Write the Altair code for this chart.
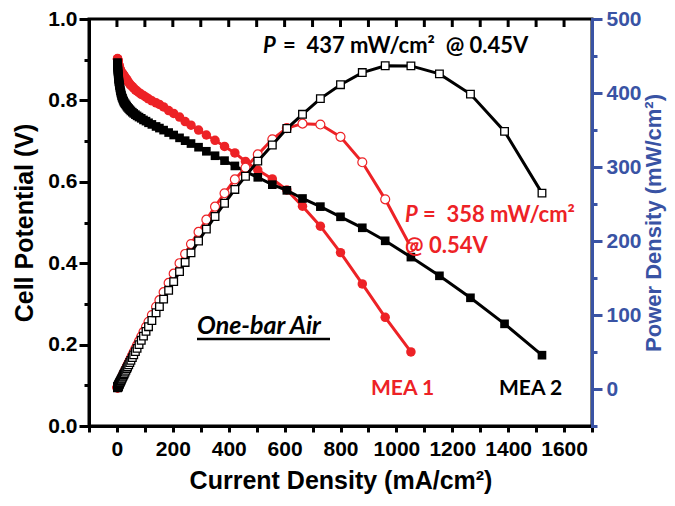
import altair as alt
import pandas as pd

# ---------------- data ----------------
current = [2.0, 2.2, 2.4, 2.6, 2.9, 3.2, 3.5, 3.8, 4.2, 4.6,
           5.0, 5.5, 6.0, 6.6, 7.2, 7.9, 8.7, 9.5, 10.4, 11.4,
           12.5, 13.7, 15, 16.5, 18, 20, 22, 24, 26, 29,
           32, 35, 38, 42, 46, 50, 55, 60, 66, 72,
           79, 87, 95, 104, 113, 125, 140, 152, 167, 185,
           203, 224, 244, 265, 292, 320, 351, 385, 422, 460,
           504, 556, 608, 664, 728, 800, 878, 960, 1052, 1154,
           1265, 1387, 1521]

mea2_v = [0.893, 0.890, 0.887, 0.884, 0.881, 0.877, 0.874, 0.871, 0.867, 0.864,
          0.860, 0.857, 0.853, 0.850, 0.846, 0.843, 0.839, 0.836, 0.832, 0.828,
          0.824, 0.820, 0.816, 0.812, 0.808, 0.805, 0.801, 0.798, 0.795, 0.792,
          0.789, 0.786, 0.783, 0.780, 0.777, 0.774, 0.771, 0.768, 0.765, 0.762,
          0.759, 0.756, 0.752, 0.749, 0.745, 0.741, 0.736, 0.732, 0.727, 0.721,
          0.715, 0.708, 0.701, 0.694, 0.685, 0.675, 0.664, 0.652, 0.639, 0.625,
          0.611, 0.593, 0.579, 0.559, 0.539, 0.514, 0.487, 0.455, 0.415, 0.369,
          0.315, 0.251, 0.174]

mea2_p = [1.8, 2.0, 2.1, 2.3, 2.6, 2.8, 3.1, 3.3, 3.6, 4.0,
          4.3, 4.7, 5.1, 5.6, 6.1, 6.7, 7.3, 7.9, 8.7, 9.4,
          10.3, 11.2, 12.2, 13.4, 14.5, 16.1, 17.6, 19.2, 20.7, 23.0,
          25.2, 27.5, 29.8, 32.8, 35.7, 38.7, 42.4, 46.1, 50.5, 54.9,
          60.0, 65.8, 71.4, 77.9, 84.2, 92.6, 103.0, 111.3, 121.4, 133.4,
          145.1, 158.6, 171.0, 183.9, 200.0, 216.0, 233.1, 251.0, 269.7, 287.5,
          307.9, 329.7, 352.0, 371.2, 392.4, 411.2, 427.6, 436.8, 436.6, 425.8,
          398.5, 348.1, 264.7]

mea1_v = [0.903, 0.902, 0.901, 0.900, 0.899, 0.898, 0.897, 0.896, 0.894, 0.893,
          0.891, 0.890, 0.888, 0.887, 0.885, 0.883, 0.881, 0.879, 0.878, 0.876,
          0.874, 0.872, 0.870, 0.869, 0.867, 0.866, 0.864, 0.862, 0.860, 0.857,
          0.854, 0.851, 0.848, 0.844, 0.840, 0.837, 0.834, 0.830, 0.826, 0.823,
          0.819, 0.815, 0.812, 0.808, 0.804, 0.799, 0.794, 0.790, 0.784, 0.775,
          0.768, 0.759, 0.748, 0.739, 0.727, 0.715, 0.702, 0.687, 0.671, 0.650,
          0.629, 0.607, 0.580, 0.540, 0.491, 0.426, 0.349, 0.267, 0.182]

mea1_p = [1.8, 2.0, 2.2, 2.3, 2.6, 2.9, 3.1, 3.4, 3.8, 4.1,
          4.5, 4.9, 5.3, 5.9, 6.4, 7.0, 7.7, 8.4, 9.1, 10.0,
          10.9, 11.9, 13.1, 14.3, 15.6, 17.3, 19.0, 20.7, 22.4, 24.9,
          27.3, 29.8, 32.2, 35.4, 38.6, 41.9, 45.9, 49.8, 54.5, 59.3,
          64.7, 70.9, 77.1, 84.0, 90.9, 99.9, 111.2, 120.1, 130.9, 143.4,
          155.9, 170.0, 182.5, 195.8, 212.3, 228.8, 246.4, 264.5, 283.2, 299.0,
          317.0, 337.5, 352.6, 358.6, 357.4, 340.8, 306.4, 256.3, 191.5]

x_tick_values = [-100, 0, 100, 200, 300, 400, 500, 600, 700, 800, 900,
                 1000, 1100, 1200, 1300, 1400, 1500, 1600, 1700]
top_tick_values = [0, 100, 200, 300, 400, 500, 600, 700, 800,
                   900, 1000, 1100, 1200, 1300, 1400, 1500, 1600]
v_tick_values = [0, 0.1, 0.2, 0.3, 0.4, 0.5, 0.6, 0.7, 0.8, 0.9, 1.0]
p_tick_values = [-50, 0, 50, 100, 150, 200, 250, 300, 350, 400, 450, 500]

RED = "#ED2226"
BLUE = "#3953A4"
AX_FONT = "Liberation Sans"
ANN_FONT = "Lato"

mea1 = pd.DataFrame({"i": current[:len(mea1_v)], "v": mea1_v, "p": mea1_p})
mea2 = pd.DataFrame({"i": current, "v": mea2_v, "p": mea2_p})
top_ticks = pd.DataFrame({"t": top_tick_values})
one = pd.DataFrame({"a": [0]})

# ---------------- scales & axes ----------------
xscale = alt.Scale(domain=[-100, 1700], nice=False, zero=False)
vscale = alt.Scale(domain=[0, 1], nice=False, zero=False)
pscale = alt.Scale(domain=[-50, 500], nice=False, zero=False)

x_axis = alt.Axis(
    values=x_tick_values, grid=False,
    labelExpr="datum.value % 200 === 0 ? format(datum.value, 'd') : ''",
    tickSize=6, tickWidth=3, tickColor="black",
    domainWidth=3, domainColor="black", domainCap="square",
    labelFont=AX_FONT, labelFontSize=21, labelFontWeight="bold", labelColor="black",
    labelPadding=6, labelOverlap=False, labelFlush=False,
    title="Current Density (mA/cm²)", titleFont=AX_FONT, titleFontSize=25,
    titleFontWeight="bold", titleColor="black", titlePadding=9,
)

v_axis = alt.Axis(
    orient="left", values=v_tick_values, grid=False,
    labelExpr="round(datum.value * 10) % 2 === 0 ? format(datum.value, '.1f') : ''",
    tickSize={"condition": {"test": "round(datum.value * 10) % 2 === 0", "value": 10}, "value": 5},
    tickWidth=3, tickColor="black",
    domainWidth=3, domainColor="black", domainCap="square",
    labelFont=AX_FONT, labelFontSize=21, labelFontWeight="bold", labelColor="black",
    labelPadding=2, labelOverlap=False, labelFlush=False,
    title="Cell Potential (V)", titleFont=AX_FONT, titleFontSize=25,
    titleFontWeight="bold", titleColor="black", titlePadding=10,
)

p_axis = alt.Axis(
    orient="right", values=p_tick_values, grid=False,
    labelExpr="datum.value % 100 === 0 ? format(datum.value, 'd') : ''",
    tickSize={"condition": {"test": "datum.value % 100 === 0", "value": 10}, "value": 5},
    tickWidth=3, tickColor=BLUE,
    domainWidth=3, domainColor=BLUE, domainCap="square",
    labelFont=AX_FONT, labelFontSize=21, labelFontWeight="bold", labelColor=BLUE,
    labelPadding=4, labelOverlap=False, labelFlush=False,
    title="Power Density (mW/cm²)", titleFont=AX_FONT, titleFontSize=22,
    titleFontWeight="bold", titleColor=BLUE, titlePadding=2,
    titleAngle=270, titleBaseline="top",
)

X = alt.X("i:Q", scale=xscale, axis=x_axis)
YV = alt.Y("v:Q", scale=vscale, axis=v_axis)
YP = alt.Y("p:Q", scale=pscale, axis=p_axis)

# ---------------- polarization curves ----------------
red_v_line = alt.Chart(mea1).mark_line(color=RED, strokeWidth=3).encode(x=X, y=YV, order="i:Q")
red_v_pts = alt.Chart(mea1).mark_point(shape="circle", filled=True, color=RED, size=90, opacity=1).encode(x=X, y=YV)
blk_v_line = alt.Chart(mea2).mark_line(color="black", strokeWidth=3).encode(x=X, y=YV, order="i:Q")
blk_v_pts = alt.Chart(mea2).mark_point(shape="square", filled=True, color="black", size=75, opacity=1).encode(x=X, y=YV)

v_group = alt.layer(red_v_line, red_v_pts, blk_v_line, blk_v_pts)

# ---------------- power curves ----------------
red_p_line = alt.Chart(mea1).mark_line(color=RED, strokeWidth=3).encode(x=X, y=YP, order="i:Q")
red_p_pts = alt.Chart(mea1).mark_point(shape="circle", filled=True, fill="white", stroke=RED,
                                       strokeWidth=1.2, size=80, opacity=1).encode(x=X, y=YP)
blk_p_line = alt.Chart(mea2).mark_line(color="black", strokeWidth=3).encode(x=X, y=YP, order="i:Q")
blk_p_pts = alt.Chart(mea2).mark_point(shape="square", filled=True, fill="white", stroke="black",
                                       strokeWidth=1.3, size=58, opacity=1).encode(x=X, y=YP)

p_group = alt.layer(red_p_line, red_p_pts, blk_p_line, blk_p_pts)

# ---------------- inward ticks on the top frame ----------------
top_tick_layer = alt.Chart(top_ticks).mark_rule(color="black", strokeWidth=3).encode(
    x=alt.X("t:Q", scale=xscale, axis=x_axis), y=alt.value(0), y2=alt.value(8))


def label(text, x, y, color="black", size=22, italic=False):
    return alt.Chart(one).mark_text(
        text=text, font=ANN_FONT, fontSize=size, fontWeight="bold",
        fontStyle="italic" if italic else "normal", color=color,
        align="left", baseline="alphabetic",
    ).encode(x=alt.value(x), y=alt.value(y))


annotations = [
    label("P", 174, 34, italic=True),
    label("=\u00a0 437 mW/cm²\u00a0 @ 0.45V", 194, 34),
    label("P", 316, 203, color=RED, italic=True),
    label("=\u00a0 358 mW/cm²", 334, 203, color=RED),
    label("@ 0.54V", 316, 234, color=RED),
    label("One-bar Air", 108, 315, size=25, italic=True),
    alt.Chart(one).mark_rule(color="black", strokeWidth=2.5).encode(
        x=alt.value(108), x2=alt.value(241), y=alt.value(320)),
    label("MEA 1", 282, 376, color=RED, size=21),
    label("MEA 2", 410, 376, size=21),
]

chart = alt.layer(v_group, p_group, top_tick_layer, *annotations).resolve_scale(
    y="independent"
).properties(
    width=503, height=407,
    autosize=alt.AutoSizeParams(type="none"),
    padding={"left": 81, "top": 11, "right": 75, "bottom": 68},
).configure_view(stroke="black", strokeWidth=3)

chart.save("out.html", embed_options={"renderer": "svg", "actions": False})
